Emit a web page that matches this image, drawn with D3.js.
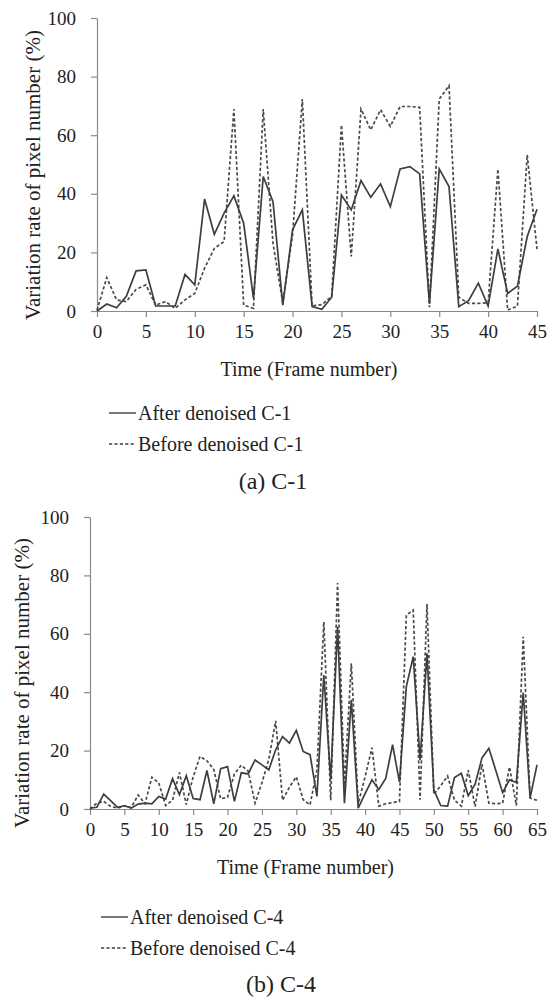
<!DOCTYPE html>
<html>
<head>
<meta charset="utf-8">
<script src="https://cdn.jsdelivr.net/npm/d3@7"></script>
<style>
  html, body { margin: 0; padding: 0; background: #fff; }
  svg { display: block; }
</style>
</head>
<body>
<svg id="chart" width="547" height="999"></svg>
<script>
// Variation rate of pixel number (%) per frame, sequence C-1
const c1AfterDenoised = [0, 2.4, 1.1, 5.0, 13.7, 14.0, 1.7, 1.7, 1.7, 12.5, 8.9, 38.2, 26.2, 33.4, 39.3,
  30.0, 4.3, 45.9, 37.3, 2.0, 27.7, 34.5, 1.5, 0.6, 4.7, 39.6, 34.5, 44.5, 38.8, 43.4, 35.6,
  48.5, 49.3, 46.8, 2.6, 48.5, 42.5, 1.5, 3.5, 9.5, 1.7, 21.2, 6.0, 8.5, 25.4, 34.7];
const c1BeforeDenoised = [0.3, 11.4, 3.8, 3.2, 7.4, 8.9, 2.0, 3.2, 0.9, 3.8, 6.0, 14.6, 21.4, 23.7, 68.9,
  2.0, 0.9, 68.9, 23.1, 2.8, 26.0, 72.3, 1.7, 2.2, 5.0, 63.5, 18.6, 68.9, 61.8, 68.7, 63.0,
  69.8, 69.8, 69.5, 1.3, 72.3, 76.9, 4.7, 2.6, 2.6, 2.8, 48.4, 0.3, 1.7, 53.3, 21.1];

// Variation rate of pixel number (%) per frame, sequence C-4
const c4AfterDenoised = [0.3, 0.6, 5.1, 2.9, 0.6, 1.1, 0.3, 1.7, 2.0, 1.8, 4.3, 3.4, 10.4, 4.9, 11.4,
  3.6, 3.2, 13.2, 1.8, 13.8, 14.5, 2.6, 12.4, 12.0, 16.8, 15.1, 13.4, 20.3, 24.8, 22.6, 26.9,
  19.7, 18.6, 4.3, 45.9, 10.0, 62.4, 2.0, 37.4, 0.3, 5.3, 10.0, 6.7, 10.5, 22.0, 9.2,
  41.9, 52.2, 16.8, 53.3, 6.6, 1.2, 1.0, 10.8, 12.2, 4.6, 8.5, 17.5, 20.8, 13.3, 5.6,
  10.0, 9.1, 39.9, 3.8, 15.1];
const c4BeforeDenoised = [0, 2.0, 2.6, 0.9, 0.3, 1.1, 0.5, 4.8, 1.8, 10.9, 8.9, 1.2, 3.0, 12.5, 1.5,
  11.0, 18.0, 16.5, 13.5, 3.5, 4.0, 12.0, 15.0, 13.0, 2.0, 9.0, 17.0, 30.2, 3.0, 7.5, 11.0,
  3.2, 1.4, 13.4, 64.1, 3.0, 77.4, 8.0, 49.9, 1.8, 11.0, 21.0, 1.0, 1.8, 2.2, 2.6,
  66.4, 68.1, 3.2, 70.2, 5.0, 8.0, 11.3, 3.0, 1.0, 13.3, 0.8, 15.4, 2.0, 1.8, 2.0,
  14.4, 1.2, 59.0, 3.7, 3.0];

const yTickValues = [0, 20, 40, 60, 80, 100];
const c1FrameTicks = d3.range(0, 46, 5);
const c4FrameTicks = d3.range(0, 66, 5);

const yAxisTitle = "Variation rate of pixel number (%)";
const xAxisTitle = "Time (Frame number)";

const SERIF = "'Liberation Serif', 'Times New Roman', Times, 'DejaVu Serif', serif";

const svg = d3.select("#chart").attr("font-family", SERIF);

function label(sel, size) {
  return sel.style("font-family", SERIF).style("font-size", size + "px").style("fill", "#222");
}

function drawPanel(cfg) {
  const g = svg.append("g");
  const x = d3.scaleLinear().domain([0, cfg.maxFrame]).range([cfg.left, cfg.right]);
  const y = d3.scaleLinear().domain([0, 100]).range([cfg.bottom, cfg.top]);

  // axes
  const yAxis = g.append("g")
    .attr("transform", `translate(${cfg.left},0)`)
    .call(d3.axisLeft(y).tickValues(yTickValues).tickSize(6).tickSizeOuter(0).tickPadding(15));
  const xAxis = g.append("g")
    .attr("transform", `translate(0,${cfg.bottom})`)
    .call(d3.axisBottom(x).tickValues(cfg.frameTicks).tickSize(6).tickSizeOuter(0).tickPadding(8));
  [yAxis, xAxis].forEach(a => {
    a.attr("font-family", SERIF);
    a.select(".domain").attr("stroke", "#8a8a8a").attr("stroke-width", 1.2);
    a.selectAll(".tick line").attr("stroke", "#8a8a8a").attr("stroke-width", 1.2);
    label(a.selectAll(".tick text"), 19);
  });

  const line = d3.line().x((d, i) => x(i)).y(d => y(d));

  g.append("path").datum(cfg.before)
    .attr("fill", "none").attr("stroke", "#4a4a4a").attr("stroke-width", 1.7)
    .attr("stroke-dasharray", "3.2,2.2").attr("d", line);
  g.append("path").datum(cfg.after)
    .attr("fill", "none").attr("stroke", "#3e3e3e").attr("stroke-width", 1.7)
    .attr("d", line);

  // axis titles
  label(g.append("text")
    .attr("transform", `translate(${cfg.yTitleX},${cfg.yTitleY}) rotate(-90)`)
    .attr("text-anchor", "middle").attr("dominant-baseline", "central"), 21)
    .text(yAxisTitle);
  label(g.append("text")
    .attr("x", (cfg.left + cfg.right) / 2 - 8).attr("y", cfg.bottom + 58)
    .attr("text-anchor", "middle").attr("dominant-baseline", "central"), 20)
    .text(xAxisTitle);

  // legend
  const legend = [
    { label: cfg.afterLabel, dash: null },
    { label: cfg.beforeLabel, dash: "3.2,2.2" }
  ];
  legend.forEach((item, i) => {
    const ly = cfg.legendY + i * 31;
    g.append("line")
      .attr("x1", cfg.legendX).attr("x2", cfg.legendX + 27)
      .attr("y1", ly).attr("y2", ly)
      .attr("stroke", "#3e3e3e").attr("stroke-width", 1.4)
      .attr("stroke-dasharray", item.dash);
    label(g.append("text")
      .attr("x", cfg.legendX + 29).attr("y", ly)
      .attr("dominant-baseline", "central"), 20)
      .text(item.label);
  });

  // panel caption
  label(g.append("text")
    .attr("x", cfg.captionX).attr("y", cfg.captionY)
    .attr("text-anchor", "middle").attr("dominant-baseline", "central"), 24)
    .text(cfg.caption);
}

drawPanel({
  after: c1AfterDenoised, before: c1BeforeDenoised, maxFrame: 45, frameTicks: c1FrameTicks,
  left: 97, right: 537, top: 18, bottom: 311,
  yTitleX: 33, yTitleY: 175,
  legendX: 109, legendY: 413,
  afterLabel: "After denoised C-1", beforeLabel: "Before denoised C-1",
  caption: "(a) C-1", captionX: 273, captionY: 481
});

drawPanel({
  after: c4AfterDenoised, before: c4BeforeDenoised, maxFrame: 65, frameTicks: c4FrameTicks,
  left: 90, right: 537, top: 517, bottom: 809,
  yTitleX: 22, yTitleY: 683,
  legendX: 101, legendY: 917,
  afterLabel: "After denoised C-4", beforeLabel: "Before denoised C-4",
  caption: "(b) C-4", captionX: 281, captionY: 984
});
</script>
</body>
</html>
